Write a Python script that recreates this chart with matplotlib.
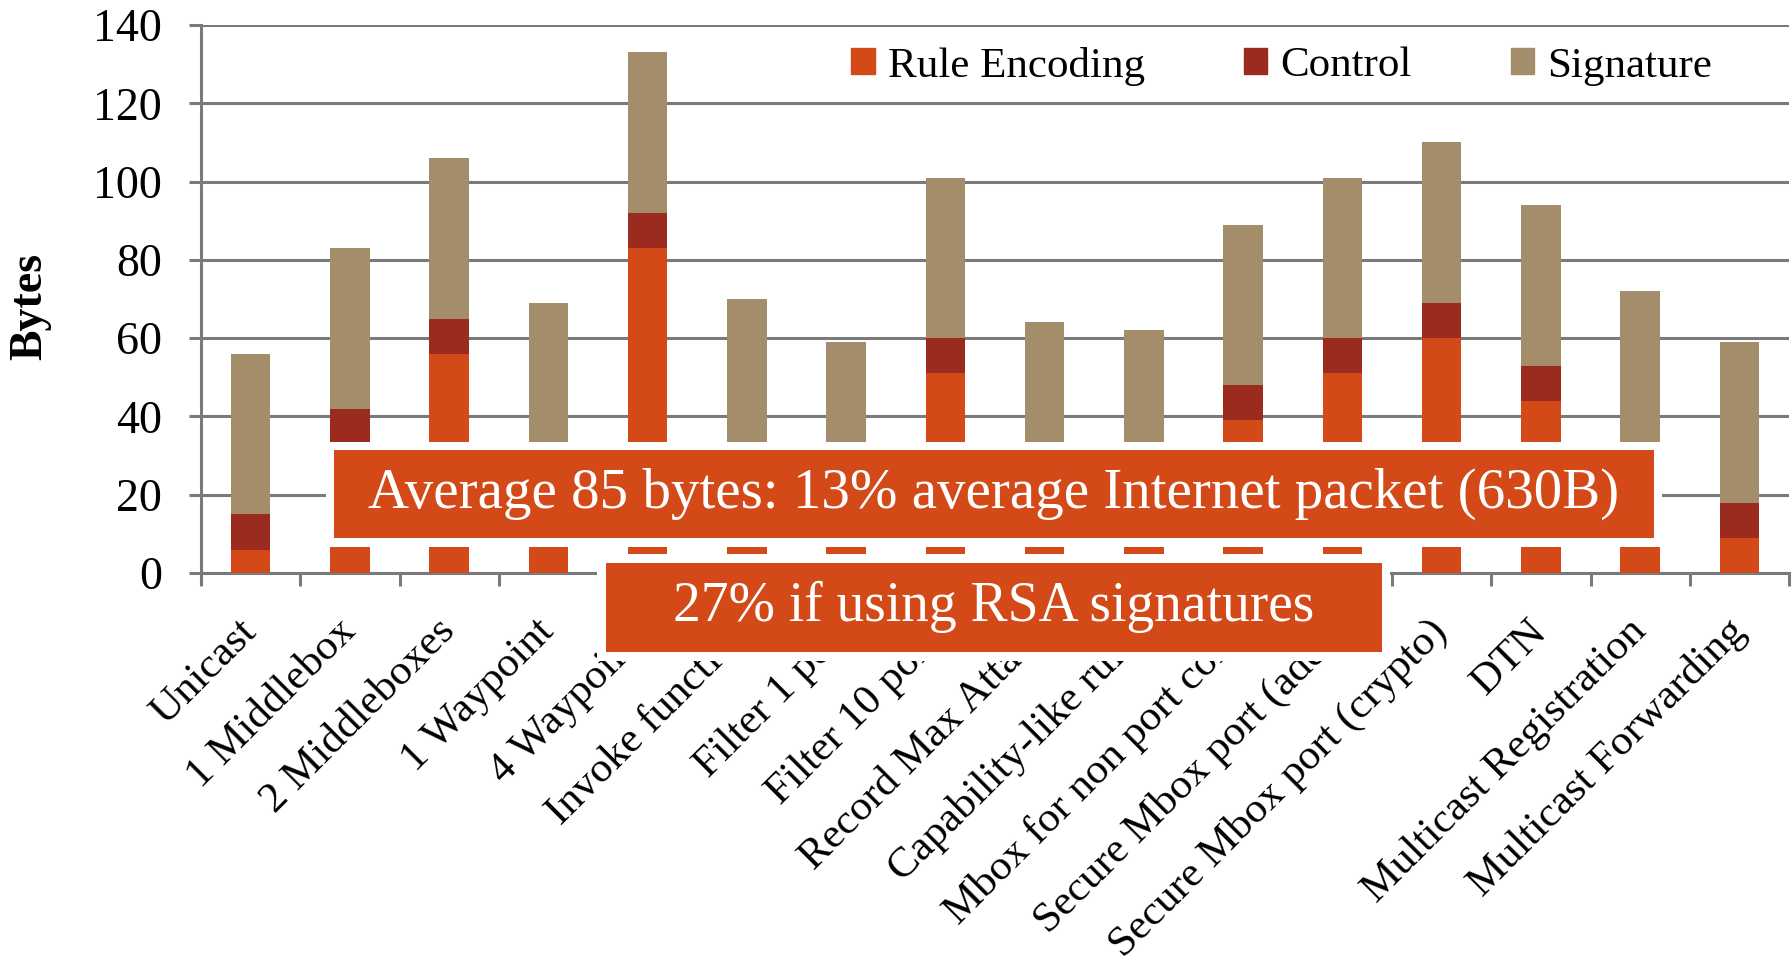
import numpy as np
import matplotlib.pyplot as plt
from matplotlib.patches import Rectangle, Patch

plt.rcParams['font.family'] = ['Liberation Serif', 'DejaVu Serif']

categories = ["Unicast", "1 Middlebox", "2 Middleboxes", "1 Waypoint", "4 Waypoints",
              "Invoke function", "Filter 1 port", "Filter 10 ports", "Record Max Attack",
              "Capability-like rules", "Mbox for non port conn", "Secure Mbox port (addr)",
              "Secure Mbox port (crypto)", "DTN", "Multicast Registration",
              "Multicast Forwarding"]
rule_encoding = [6, 33, 56, 28, 83, 29, 18, 51, 23, 21, 39, 51, 60, 44, 31, 9]
control = [9, 9, 9, 0, 9, 0, 0, 9, 0, 0, 9, 9, 9, 9, 0, 9]
signature = [41] * 16

note_main = "Average 85 bytes: 13% average Internet packet (630B)"
note_rsa = "27% if using RSA signatures"

c_rule = '#D34A18'
c_ctrl = '#9C2B1F'
c_sig = '#A48D6B'
grid_c = '#7a7a7a'

W, H = 1792, 973
fig = plt.figure(figsize=(W / 100, H / 100), dpi=100)
ax = fig.add_axes([201 / W, 1 - 573 / H, (1789 - 201) / W, (573 - 25) / H])

x = np.arange(len(categories))
rule = np.array(rule_encoding)
ctrl = np.array(control)
sig = np.array(signature)

ax.bar(x, rule, width=0.4, color=c_rule, zorder=3, label='Rule Encoding')
ax.bar(x, ctrl, width=0.4, bottom=rule, color=c_ctrl, zorder=3, label='Control')
ax.bar(x, sig, width=0.4, bottom=rule + ctrl, color=c_sig, zorder=3, label='Signature')

ax.set_xlim(-0.5, len(categories) - 0.5)
ax.set_ylim(0, 140)
ax.set_yticks(range(0, 141, 20))
ax.yaxis.grid(True, color=grid_c, linewidth=2.2, zorder=0)
ax.set_axisbelow(True)
for s in ['top', 'right']:
    ax.spines[s].set_visible(False)
for s in ['left', 'bottom']:
    ax.spines[s].set_color(grid_c)
    ax.spines[s].set_linewidth(2.2)
ax.tick_params(axis='y', length=9, width=2.2, color=grid_c, labelsize=33, pad=19)
ax.set_xticks(np.arange(len(categories) + 1) - 0.5, minor=True)
ax.tick_params(axis='x', which='minor', length=9, width=2.2, color=grid_c)
ax.tick_params(axis='x', which='major', length=0, pad=38)
ax.set_xticks(x)
ax.set_xticklabels(categories, rotation=45, ha='right', va='center',
                   rotation_mode='anchor', fontsize=31)

fig.text(30 / W, 1 - 306 / H, 'Bytes', rotation=90, fontsize=33, fontweight='bold',
         ha='center', va='center')

handles = [Patch(color=c_rule, label='Rule Encoding'),
           Patch(color=c_ctrl, label='Control'),
           Patch(color=c_sig, label='Signature')]
fig.legend(handles=handles, loc='center left', bbox_to_anchor=(851 / W, 1 - 66 / H),
           ncol=3, frameon=False, fontsize=31, handlelength=0.55, handleheight=0.55,
           handletextpad=0.3, columnspacing=2.3, borderpad=0, borderaxespad=0)


def px_rect(x0, y0, x1, y1, color, z):
    fig.patches.append(Rectangle((x0 / W, 1 - y1 / H), (x1 - x0) / W, (y1 - y0) / H,
                                 transform=fig.transFigure, facecolor=color,
                                 edgecolor='none', zorder=z))


# callout boxes sit on white pads that hide the chart beneath them
px_rect(326, 442, 1662, 547, 'white', 10)
px_rect(334, 450, 1654, 538, c_rule, 11)
px_rect(597, 554, 1390, 661, 'white', 10)
px_rect(606, 563, 1382, 652, c_rule, 11)

fig.text(994 / W, 1 - 494 / H, note_main, color='white', fontsize=41,
         ha='center', va='center', zorder=12)
fig.text(994 / W, 1 - 607 / H, note_rsa, color='white', fontsize=40,
         ha='center', va='center', zorder=12)

fig.savefig('out.png', dpi=100)
